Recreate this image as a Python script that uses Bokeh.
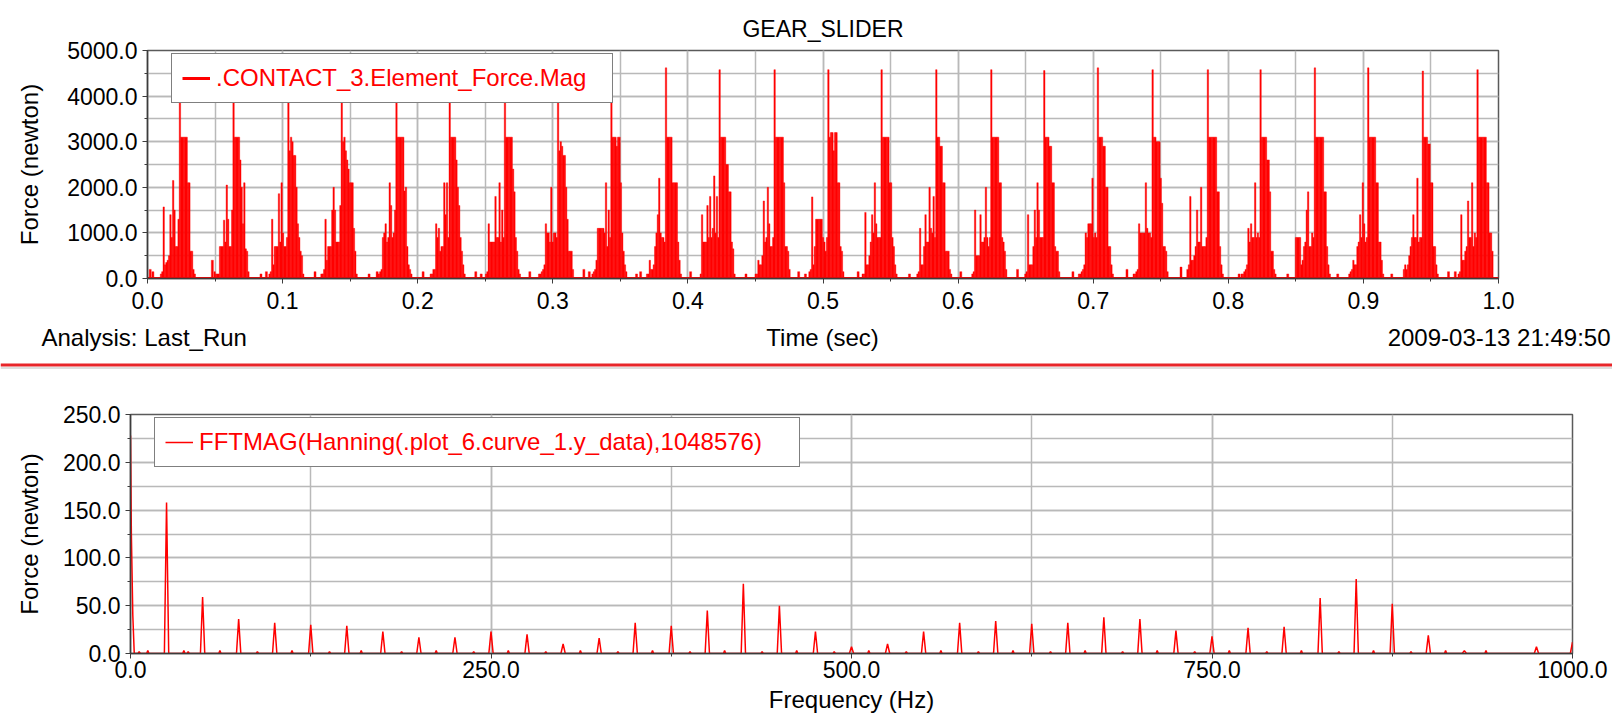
from bokeh.plotting import figure
from bokeh.models import (Range1d, SingleIntervalTicker, PrintfTickFormatter,
                          Legend, LegendItem, Span)
from bokeh.core.properties import value
from bokeh.embed import file_html
from bokeh.resources import INLINE

# ---------------- data ----------------
plot_title = "GEAR_SLIDER"
top_curve_name = ".CONTACT_3.Element_Force.Mag"
bottom_curve_name = "FFTMAG(Hanning(.plot_6.curve_1.y_data),1048576)"
analysis_text = "Analysis:  Last_Run"
time_axis_text = "Time (sec)"
stamp_text = "2009-03-13 21:49:50"

# time (s) of the main spike of every contact burst
burst_peak_time = [0.0240, 0.0637, 0.1043, 0.1438, 0.1843, 0.2237, 0.2646, 0.3039,
                   0.3434, 0.3838, 0.4235, 0.4642, 0.5040, 0.5434, 0.5839, 0.6246,
                   0.6638, 0.7035, 0.7440, 0.7849, 0.8239, 0.8641, 0.9036, 0.9440,
                   0.9845]
# offsets (ms) around each main spike at which forces were read
burst_offset_ms = list(range(-14, 12))
# force (N) for each burst at those offsets
burst_force = [
    [100, 150, 1570, 300, 350, 400, 500, 1400, 900, 2150, 1500, 700, 700, 1300, 4600, 3100, 3100, 3100, 3100, 3100, 2100, 2100, 600, 600, 200, 100],
    [150, 100, 100, 100, 700, 700, 700, 1280, 800, 2050, 1300, 700, 700, 1500, 4600, 3100, 3100, 3100, 3100, 2600, 2000, 1200, 2100, 650, 600, 150],
    [100, 150, 1300, 300, 700, 700, 700, 1860, 800, 2100, 1000, 700, 700, 900, 4600, 2800, 3100, 3000, 2700, 2700, 2000, 1200, 900, 600, 500, 100],
    [100, 200, 1300, 400, 700, 700, 700, 1500, 2000, 1500, 800, 800, 800, 1600, 4600, 3000, 3100, 2800, 2600, 2400, 2100, 2100, 2100, 1100, 600, 100],
    [100, 100, 150, 200, 900, 1000, 1200, 800, 900, 2100, 1600, 900, 1000, 1500, 4600, 3100, 3100, 3100, 3100, 3100, 1920, 2000, 700, 300, 200, 100],
    [100, 100, 200, 200, 1200, 900, 1100, 600, 700, 700, 2100, 1400, 2100, 900, 4600, 3100, 3100, 3100, 3100, 2600, 2000, 1600, 900, 600, 300, 100],
    [100, 150, 1200, 800, 800, 800, 800, 1800, 900, 900, 2100, 800, 1500, 900, 4600, 3100, 3100, 3100, 3100, 3100, 2400, 1900, 900, 600, 200, 100],
    [100, 100, 150, 200, 300, 1200, 1000, 1000, 800, 2000, 800, 1000, 1000, 900, 4600, 2800, 3000, 2900, 2700, 2700, 2000, 1300, 600, 600, 600, 200],
    [100, 150, 200, 400, 1100, 1100, 1100, 1100, 1100, 1000, 2100, 700, 1500, 900, 4600, 3100, 3100, 3100, 2900, 3100, 3100, 2100, 1000, 600, 300, 150],
    [100, 100, 400, 200, 200, 300, 700, 1000, 1400, 2200, 1000, 900, 900, 800, 4620, 3100, 3100, 3100, 3100, 2100, 2100, 2100, 2100, 800, 400, 100],
    [100, 1400, 800, 800, 800, 1600, 900, 1800, 900, 1100, 2250, 1000, 1800, 900, 4580, 3100, 3100, 3100, 3100, 2500, 2500, 1900, 1900, 800, 650, 100],
    [100, 100, 400, 300, 300, 500, 1700, 800, 900, 2000, 1200, 700, 700, 900, 4580, 3100, 3100, 3100, 3100, 3100, 3100, 2100, 700, 700, 600, 200],
    [150, 200, 1790, 300, 700, 1300, 1300, 1300, 1300, 1300, 900, 800, 600, 900, 4580, 3100, 3200, 3200, 2800, 3200, 3200, 2100, 2100, 700, 600, 150],
    [100, 100, 1450, 300, 300, 500, 800, 1400, 1000, 2100, 1200, 900, 900, 900, 4580, 3100, 3100, 3100, 3100, 3100, 2100, 2100, 900, 700, 300, 100],
    [100, 150, 1100, 300, 300, 700, 1400, 800, 800, 2000, 1100, 1000, 1800, 900, 4580, 3100, 3100, 2900, 2900, 2100, 2100, 600, 600, 600, 200, 100],
    [100, 150, 1500, 500, 500, 500, 1400, 800, 800, 900, 2000, 900, 700, 900, 4580, 3100, 3100, 3100, 3100, 3100, 2100, 2100, 900, 800, 600, 200],
    [100, 150, 1400, 300, 300, 300, 700, 1500, 900, 2100, 1500, 900, 900, 900, 4560, 3100, 3100, 3100, 2900, 2900, 2100, 2100, 700, 600, 600, 150],
    [100, 100, 150, 200, 300, 1000, 900, 1200, 1200, 1200, 2200, 900, 1000, 900, 4620, 3100, 3100, 3100, 2900, 2900, 2000, 2000, 700, 700, 300, 100],
    [100, 100, 150, 200, 1200, 1000, 1000, 1000, 1000, 2100, 1100, 1000, 1000, 900, 4580, 3100, 3100, 3000, 3000, 3000, 2200, 1650, 700, 700, 600, 150],
    [300, 1800, 400, 400, 500, 700, 1500, 800, 800, 2000, 700, 700, 700, 900, 4580, 3100, 3100, 3100, 3100, 3100, 3100, 1900, 1900, 700, 300, 100],
    [100, 100, 150, 200, 300, 1100, 800, 1200, 900, 900, 2100, 900, 1000, 900, 4580, 3100, 3100, 3100, 3100, 2600, 2600, 1900, 600, 600, 200, 100],
    [900, 900, 900, 900, 300, 400, 700, 800, 1500, 1900, 700, 700, 1000, 900, 4620, 3100, 3100, 3100, 3100, 3100, 3100, 1900, 1900, 700, 300, 100],
    [100, 150, 200, 400, 300, 300, 700, 800, 1400, 900, 2100, 1200, 800, 900, 4620, 3100, 3100, 3100, 3100, 3100, 2100, 2100, 800, 800, 400, 100],
    [200, 300, 200, 300, 500, 700, 900, 1400, 900, 900, 2200, 800, 900, 900, 4550, 3100, 3100, 3100, 2950, 2950, 2100, 2100, 700, 700, 300, 100],
    [100, 150, 1400, 400, 400, 600, 700, 1700, 900, 900, 2100, 700, 1000, 900, 4580, 3100, 3100, 3100, 3100, 3100, 3100, 2100, 2100, 1000, 1000, 600],
]
# small force bumps between the bursts
gap_time = [0.002, 0.004, 0.048, 0.084, 0.088, 0.124, 0.129, 0.164, 0.170, 0.204,
            0.243, 0.247, 0.283, 0.323, 0.327, 0.362, 0.365, 0.402, 0.443, 0.482,
            0.487, 0.526, 0.564, 0.602, 0.644, 0.685, 0.725, 0.765, 0.770, 0.808,
            0.844, 0.881, 0.921, 0.963, 0.968]
gap_force = [200, 150, 400, 100, 150, 150, 100, 100, 150, 150,
             150, 100, 150, 200, 150, 100, 150, 150, 100, 150,
             100, 150, 100, 150, 200, 150, 200, 250, 200, 100,
             100, 100, 100, 150, 150]

# spectrum: low-frequency end (Hz, N)
fft_low_freq = [0.0, 0.6, 1.6, 2.6]
fft_low_mag = [228, 125, 40, 0]
# harmonic peaks (Hz, N)
fft_peak_freq = [25, 50, 75, 100, 125, 150, 175, 200, 225, 250, 275, 300, 325,
                 350, 375, 400, 425, 450, 475, 500, 525, 550, 575, 600, 625, 650,
                 675, 700, 725, 750, 775, 800, 825, 850, 875, 900, 925, 975, 1000]
fft_peak_mag = [158, 59, 36, 32, 30, 29, 23, 17, 17, 23, 20, 10, 16,
                32, 29, 45, 73, 50, 23, 7, 10, 23, 32, 34, 31, 32,
                38, 36, 24, 18, 27, 28, 58, 78, 52, 19, 3, 7, 12]
# little bumps of the spectrum between peaks
fft_bump_freq = [6, 12, 37, 40, 62, 88, 112, 138, 160, 188, 212, 238, 262, 288,
                 312, 338, 362, 388, 412, 438, 462, 488, 512, 538, 562, 588, 612,
                 638, 662, 688, 712, 738, 762, 788, 812, 838, 862, 888, 912, 940]
fft_bump_mag = [2, 3, 3, 2, 3, 2, 3, 2, 3, 2, 3, 2, 3, 2,
                3, 2, 3, 2, 3, 2, 3, 2, 3, 2, 3, 2, 3,
                2, 3, 2, 3, 2, 3, 2, 3, 2, 3, 2, 3, 3]

# ---------------- styling ----------------
FONT = "Liberation Sans"
RED = "#ff0000"
GRID = "#b9b9b9"
AXIS = "#3c3c3c"
W = 1612


def style(p, xt, yt):
    for ax, t in ((p.xaxis, xt), (p.yaxis, yt)):
        ax.ticker = t
        ax.formatter = PrintfTickFormatter(format="%.1f")
        ax.major_label_text_font = FONT
        ax.major_label_text_font_size = "23px"
        ax.major_label_text_color = "black"
        ax.axis_label_text_font = FONT
        ax.axis_label_text_font_size = "24px"
        ax.axis_label_text_font_style = "normal"
        ax.axis_label_text_color = "black"
        ax.axis_line_color = AXIS
        ax.axis_line_width = 1.5
        ax.major_tick_line_color = AXIS
        ax.minor_tick_line_color = AXIS
        ax.major_tick_in = 0
        ax.major_tick_out = 5
        ax.minor_tick_in = 0
        ax.minor_tick_out = 3
        ax.major_label_standoff = 5
    p.xgrid.ticker = xt
    p.ygrid.ticker = yt
    for g in (p.xgrid, p.ygrid):
        g.grid_line_color = GRID
        g.grid_line_width = 1.5
        g.minor_grid_line_color = GRID
        g.minor_grid_line_width = 1.5
    p.outline_line_color = "#5a5a5a"
    p.outline_line_width = 1.5
    p.background_fill_color = "white"
    p.border_fill_color = "white"


def legend_for(renderer, label, vy, label_w):
    lg = Legend(items=[LegendItem(label=label, renderers=[renderer])],
                location=(24, vy))
    lg.border_line_color = "black"
    lg.border_line_width = 1.5
    lg.background_fill_color = "white"
    lg.background_fill_alpha = 1.0
    lg.label_text_color = RED
    lg.label_text_font = FONT
    lg.label_text_font_size = "24px"
    lg.padding = 10
    lg.margin = 0
    lg.glyph_width = 28
    lg.glyph_height = 20
    lg.label_standoff = 6
    lg.label_width = label_w
    return lg


# ---------------- top: force vs time ----------------
top = figure(width=W, height=318, output_backend="svg", toolbar_location=None,
             x_range=Range1d(0, 1), y_range=Range1d(0, 5000),
             min_border_left=147, min_border_right=114,
             min_border_top=50, min_border_bottom=40, title=plot_title)
top.title.align = "center"
top.title.text_font = FONT
top.title.text_font_size = "23px"
top.title.text_font_style = "normal"
top.title.text_color = "black"
top.title.standoff = 18
style(top, SingleIntervalTicker(interval=0.1, num_minor_ticks=2),
      SingleIntervalTicker(interval=1000, num_minor_ticks=2))
top.xaxis.major_label_standoff = 8
top.yaxis.axis_label = "Force (newton)"
top.yaxis.axis_label_standoff = 21

t_vals, f_vals = [], []
for tp, forces in zip(burst_peak_time, burst_force):
    for off, fv in zip(burst_offset_ms, forces):
        t_vals.append(tp + off / 1000.0)
        f_vals.append(fv)

top.vbar(x=gap_time, top=gap_force, width=0.0015, bottom=0,
         fill_color=RED, line_color=RED, line_width=0.4)
top.vbar(x=t_vals, top=f_vals, width=0.00105, bottom=0,
         fill_color=RED, line_color=RED, line_width=0.4)
base = top.line(x=[top.x_range.start, top.x_range.end], y=[0, 0],
                line_color=RED, line_width=3)
top.add_layout(legend_for(base, top_curve_name, 175, 386))

# ---------------- strip: x-axis title row + separator ----------------
strip = figure(width=W, height=52, output_backend="svg", toolbar_location=None,
               x_range=Range1d(0, W), y_range=Range1d(52, 0),
               min_border=0, x_axis_location=None, y_axis_location=None,
               outline_line_color=None)
strip.grid.visible = False
strip.text(x=[41], y=[19], text=[analysis_text], text_font=value(FONT),
           text_font_size=value("24px"), text_baseline="middle",
           text_align="left", text_color="black")
strip.text(x=[822], y=[19], text=[time_axis_text], text_font=value(FONT),
           text_font_size=value("24px"), text_baseline="middle",
           text_align="center", text_color="black")
strip.text(x=[1610], y=[19], text=[stamp_text], text_font=value(FONT),
           text_font_size=value("24px"), text_baseline="middle",
           text_align="right", text_color="black")
strip.add_layout(Span(location=46.5, dimension="width", line_color="#e8262a",
                      line_width=3))
strip.add_layout(Span(location=49.5, dimension="width", line_color="#bdbdbd",
                      line_width=1))

# ---------------- bottom: FFT ----------------
bot = figure(width=W, height=350, output_backend="svg", toolbar_location=None,
             x_range=Range1d(0, 1000), y_range=Range1d(0, 250),
             min_border_left=130, min_border_right=40,
             min_border_top=44, min_border_bottom=67)
style(bot, SingleIntervalTicker(interval=250, num_minor_ticks=2),
      SingleIntervalTicker(interval=50, num_minor_ticks=2))
bot.xaxis.axis_label = "Frequency (Hz)"
bot.xaxis.axis_label_standoff = 5
bot.xaxis.major_label_standoff = 2
bot.yaxis.axis_label = "Force (newton)"
bot.yaxis.axis_label_standoff = 17

pts = []
for f, m in zip(fft_peak_freq, fft_peak_mag):
    pts += [(f - 1.5, 0), (f, m), (f + 1.5, 0)]
for f, m in zip(fft_bump_freq, fft_bump_mag):
    pts += [(f - 0.8, 0), (f, m), (f + 0.8, 0)]
pts.sort()
sx = list(fft_low_freq) + [p_[0] for p_ in pts]
sy = list(fft_low_mag) + [p_[1] for p_ in pts]
spec = bot.line(x=sx, y=sy, line_color=RED, line_width=1.5)
bot.add_layout(legend_for(spec, bottom_curve_name, 186, 590))

open("out.html", "w").write(file_html([top, strip, bot], INLINE))
